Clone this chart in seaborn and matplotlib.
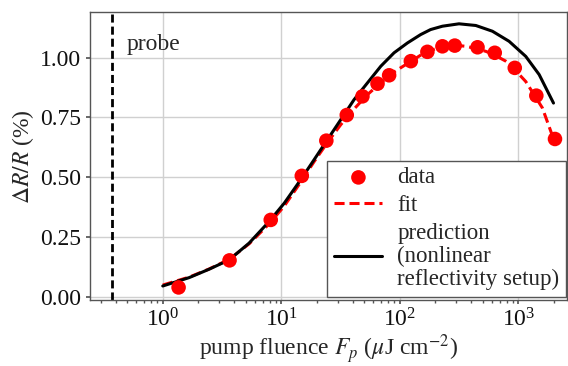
import numpy as np
import pandas as pd
import matplotlib
matplotlib.use("Agg")
import matplotlib.pyplot as plt
import seaborn as sns

# ---- data ----
data_fluence = [1.36, 3.66, 8.15, 14.9, 24.0, 35.7, 48.4, 64.9, 81.3, 124, 171, 229, 291, 453, 633, 934, 1420, 2040]
data_dR = [0.040, 0.153, 0.322, 0.506, 0.653, 0.760, 0.838, 0.891, 0.926, 0.985, 1.024, 1.047, 1.050, 1.043, 1.020, 0.957, 0.841, 0.660]

fit_fluence = [1.0, 1.67, 2.46, 3.63, 5.35, 7.89, 10.6, 14.6, 18.9, 24.5, 31.8, 41.1, 53.3, 69.2, 89.5,
               116, 150, 182, 229, 316, 361, 438, 532, 605, 785, 836, 1156, 1596, 1995]
fit_dR = [0.050, 0.083, 0.117, 0.157, 0.222, 0.305, 0.380, 0.480, 0.565, 0.645, 0.720, 0.785, 0.845, 0.895, 0.940,
          0.975, 1.010, 1.030, 1.045, 1.050, 1.047, 1.038, 1.026, 1.015, 0.985, 0.975, 0.900, 0.790, 0.657]

pred_fluence = [1.0, 1.67, 2.46, 3.63, 5.35, 7.89, 10.6, 14.6, 18.9, 24.5, 31.8, 41.1, 53.3, 69.2, 89.5,
                116, 150, 182, 229, 316, 438, 605, 836, 1156, 1500, 1982]
pred_dR = [0.046, 0.081, 0.116, 0.155, 0.225, 0.315, 0.392, 0.490, 0.573, 0.657, 0.741, 0.824, 0.894, 0.964, 1.020,
           1.061, 1.096, 1.117, 1.131, 1.141, 1.134, 1.110, 1.068, 1.005, 0.929, 0.810]

probe_fluence = 0.37

sns.set_theme(style="whitegrid")
plt.rcParams.update({
    "font.family": ["Liberation Serif", "DejaVu Serif"],
    "mathtext.fontset": "stix",
    "font.size": 17,
    "axes.edgecolor": "#555555",
    "axes.linewidth": 1.0,
    "grid.color": "#d0d0d0",
    "grid.linewidth": 1.0,
    "xtick.bottom": True,
    "ytick.left": True,
    "xtick.color": "#555555",
    "ytick.color": "#555555",
    "xtick.labelcolor": "#111111",
    "ytick.labelcolor": "#111111",
    "xtick.major.size": 3,
    "xtick.minor.size": 2,
    "ytick.major.size": 3,
})

fig = plt.figure(figsize=(5.68, 3.66), dpi=100)
ax = fig.add_axes([0.158, 0.180, 0.840, 0.787])

df_data = pd.DataFrame({"F": data_fluence, "dR": data_dR})
df_fit = pd.DataFrame({"F": fit_fluence, "dR": fit_dR})
df_pred = pd.DataFrame({"F": pred_fluence, "dR": pred_dR})

ax.set_xscale("log")

ax.axvline(probe_fluence, color="black", linestyle=(0, (2.9, 1.45)), linewidth=2.0, zorder=2)

sns.lineplot(data=df_fit, x="F", y="dR", ax=ax, color="red", linewidth=2.2,
             linestyle=(0, (3.3, 1.6)), label="fit", zorder=3, sort=False)
sns.lineplot(data=df_pred, x="F", y="dR", ax=ax, color="black", linewidth=2.2,
             label="prediction\n(nonlinear\nreflectivity setup)", zorder=4, sort=False)
sns.scatterplot(data=df_data, x="F", y="dR", ax=ax, color="red", s=110,
                edgecolor="none", label="data", zorder=5)

ax.set_xlim(0.242, 2570)
ax.set_ylim(-0.013, 1.19)
ax.set_yticks([0.0, 0.25, 0.5, 0.75, 1.0])
ax.set_yticklabels(["0.00", "0.25", "0.50", "0.75", "1.00"])
ax.tick_params(axis="both", which="major", labelsize=17, pad=3)
ax.xaxis.set_minor_locator(matplotlib.ticker.LogLocator(base=10, subs=np.arange(2, 10)))
ax.grid(True, which="major")
ax.grid(False, which="minor")

ax.text(0.50, 1.055, "probe", fontsize=17, ha="left", va="center")

ax.set_xlabel(r"pump fluence $F_p$ ($\mu$J cm$^{-2}$)", fontsize=17, labelpad=1)
ax.set_ylabel(r"$\Delta R/R$ (%)", fontsize=17, labelpad=3)

handles, labels = ax.get_legend_handles_labels()
order = [labels.index("data"), labels.index("fit"), labels.index("prediction\n(nonlinear\nreflectivity setup)")]
leg = ax.legend([handles[i] for i in order], [labels[i] for i in order],
                loc="lower right", bbox_to_anchor=(0.999, 0.012), fontsize=16.5, frameon=True,
                fancybox=False, edgecolor="#555555", framealpha=1.0, handlelength=2.1,
                borderaxespad=0.0, labelspacing=0.3, borderpad=0.3, handletextpad=0.65)
leg.get_frame().set_linewidth(1.0)
for t in leg.get_texts():
    t.set_linespacing(1.1)

fig.savefig("out.png", dpi=100)
